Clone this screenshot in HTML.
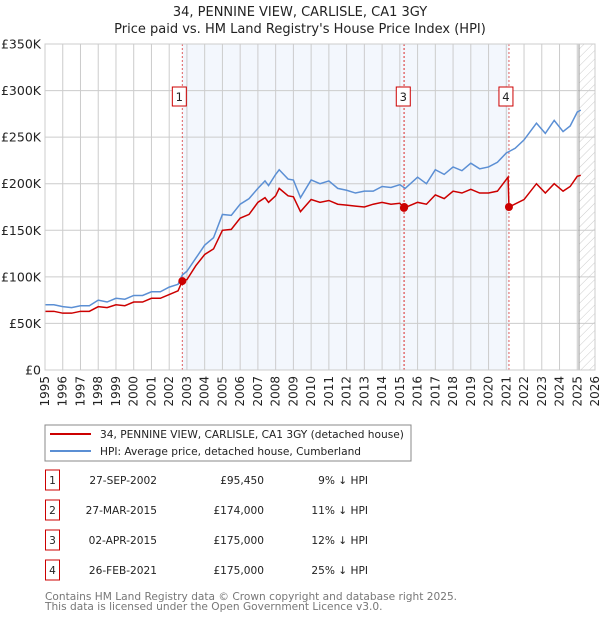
<!DOCTYPE html>
<html><head><meta charset="utf-8"><style>
body{margin:0;background:#fff;font-family:"DejaVu Sans","Liberation Sans",sans-serif;}
svg text{font-family:"DejaVu Sans","Liberation Sans",sans-serif;}
</style></head><body>
<svg id="c" width="600" height="620" xmlns="http://www.w3.org/2000/svg">
<defs><pattern id="hatch" width="6" height="6" patternUnits="userSpaceOnUse" patternTransform="rotate(45)"><line x1="0" y1="0" x2="0" y2="6" stroke="#ccc" stroke-width="1"/></pattern></defs>
<text x="300" y="16" text-anchor="middle" font-size="13" fill="#222">34, PENNINE VIEW, CARLISLE, CA1 3GY</text>
<text x="300" y="33" text-anchor="middle" font-size="13" fill="#222">Price paid vs. HM Land Registry's House Price Index (HPI)</text>
<g id="plot"></g>
<rect x="45" y="425" width="366" height="36" fill="#fff" stroke="#888"/>
<line x1="50" y1="434" x2="91" y2="434" stroke="#cc0000" stroke-width="2"/>
<text x="100" y="438" font-size="10.6" fill="#222">34, PENNINE VIEW, CARLISLE, CA1 3GY (detached house)</text>
<line x1="50" y1="451" x2="91" y2="451" stroke="#5b8fd4" stroke-width="2"/>
<text x="100" y="455" font-size="10.6" fill="#222">HPI: Average price, detached house, Cumberland</text>
<g id="tbl"></g>
<text x="45" y="600" font-size="10.6" fill="#777">Contains HM Land Registry data © Crown copyright and database right 2025.</text>
<text x="45" y="610" font-size="10.6" fill="#777">This data is licensed under the Open Government Licence v3.0.</text>
</svg>
<script>
const hpiYears=[1995,1995.5,1996,1996.5,1997,1997.5,1998,1998.5,1999,1999.5,2000,2000.5,2001,2001.5,2002,2002.5,2002.74,2003,2003.5,2004,2004.5,2005,2005.5,2006,2006.5,2007,2007.4,2007.6,2008,2008.2,2008.7,2009,2009.4,2010,2010.5,2011,2011.5,2012,2012.5,2013,2013.5,2014,2014.5,2015,2015.3,2016,2016.5,2017,2017.5,2018,2018.5,2019,2019.5,2020,2020.5,2021,2021.5,2022,2022.7,2023.2,2023.7,2024.2,2024.6,2025,2025.2];
const hpiValues=[70,70,68,67,69,69,75,73,77,76,80,80,84,84,89,92,102,106,120,134,142,167,166,178,184,195,203,198,210,215,205,204,185,204,200,203,195,193,190,192,192,197,196,199,195,207,200,215,210,218,214,222,216,218,223,233,238,247,265,254,268,256,262,277,279];
const priceYears=[1995,1995.5,1996,1996.5,1997,1997.5,1998,1998.5,1999,1999.5,2000,2000.5,2001,2001.5,2002,2002.5,2002.74,2003,2003.5,2004,2004.5,2005,2005.5,2006,2006.5,2007,2007.4,2007.6,2008,2008.2,2008.7,2009,2009.4,2010,2010.5,2011,2011.5,2012,2012.5,2013,2013.5,2014,2014.5,2015,2015.24,2016,2016.5,2017,2017.5,2018,2018.5,2019,2019.5,2020,2020.5,2021.1,2021.15,2022,2022.7,2023.2,2023.7,2024.2,2024.6,2025,2025.2];
const priceValues=[63,63,61,61,63,63,68,67,70,69,73,73,77,77,81,85,95.45,97,112,124,130,150,151,163,167,180,185,180,187,195,187,186,170,183,180,182,178,177,176,175,178,180,178,179,174,180,178,188,184,192,190,194,190,190,192,207,175,183,200,190,200,192,197,208,209];
const saleIds=["1","2","3","4"];
const saleYears=[2002.74,2015.23,2015.25,2021.15];
const salePrices=[95.45,174,175,175];
const saleDates=["27-SEP-2002","27-MAR-2015","02-APR-2015","26-FEB-2021"];
const salePriceLabels=["£95,450","£174,000","£175,000","£175,000"];
const saleHpi=["9% ↓ HPI","11% ↓ HPI","12% ↓ HPI","25% ↓ HPI"];
const yTicks=[0,50,100,150,200,250,300,350];
const yTickLabels=["£0","£50K","£100K","£150K","£200K","£250K","£300K","£350K"];
const xTicks=[1995,1996,1997,1998,1999,2000,2001,2002,2003,2004,2005,2006,2007,2008,2009,2010,2011,2012,2013,2014,2015,2016,2017,2018,2019,2020,2021,2022,2023,2024,2025,2026];
const X0=45,X1=595,Y0=370,Y1=44;
const xs=y=>X0+(y-1995)/(2026-1995)*(X1-X0);
const ys=v=>Y0-v/350*(Y0-Y1);
const NS="http://www.w3.org/2000/svg";
const g=document.getElementById('plot');
function mk(tag,attrs,parent){const e=document.createElementNS(NS,tag);for(const k in attrs)e.setAttribute(k,attrs[k]);(parent||g).appendChild(e);return e;}
let e;
e=mk('rect',{x:X0,y:Y1,width:X1-X0,height:Y0-Y1,fill:'#fff'});


e=mk('rect',{x:xs(saleYears[0]),y:Y1,width:xs(saleYears[3])-xs(saleYears[0]),height:Y0-Y1,fill:'#eef3fc',opacity:0.7});


e=mk('rect',{x:xs(2025.1),y:Y1,width:X1-xs(2025.1),height:Y0-Y1,fill:'url(#hatch)'});


xTicks.forEach(t=>{
 e=mk('line',{x1:xs(t),x2:xs(t),y1:Y1,y2:Y0,stroke:'#ccc','stroke-width':1});
 
 
 e=mk('text',{x:0,y:0,'font-size':12,fill:'#222','text-anchor':'end',transform:`translate(${xs(t)+4},${Y0+6}) rotate(-90)`});
 e.textContent=t;
 
 
});
yTicks.forEach((t,i)=>{
 e=mk('line',{x1:X0,x2:X1,y1:ys(t),y2:ys(t),stroke:'#ccc','stroke-width':1});
 
 
 e=mk('text',{x:X0-4,y:ys(t)+4.5,'font-size':12.5,fill:'#222','text-anchor':'end'});
 e.textContent=yTickLabels[i];
 
 
});
e=mk('line',{x1:xs(2025.1),x2:xs(2025.1),y1:Y1,y2:Y0,stroke:'#999','stroke-width':1});


saleYears.forEach((s,i)=>{
 e=mk('line',{x1:xs(s),x2:xs(s),y1:Y1,y2:Y0,stroke:'#e06060','stroke-width':1,'stroke-dasharray':'2,2'});
 
 
});
e=mk('polyline',{points:hpiYears.map((y,i)=>xs(y)+','+ys(hpiValues[i])).join(' '),fill:'none',stroke:'#5b8fd4','stroke-width':1.5});


e=mk('polyline',{points:priceYears.map((y,i)=>xs(y)+','+ys(priceValues[i])).join(' '),fill:'none',stroke:'#cc0000','stroke-width':1.5});


saleYears.forEach((s,i)=>{
 e=mk('circle',{cx:xs(s),cy:ys(salePrices[i]),r:4,fill:'#cc0000'});
 
 
 if(i===1) return;
 const bx=xs(s)-(i===2?-2:0)-10;
 e=mk('rect',{x:bx,y:87,width:14,height:19,fill:'#fff',stroke:'#cc0000','stroke-width':1});
 
 
 e=mk('text',{x:bx+7,y:101,'font-size':11.5,fill:'#222','text-anchor':'middle'});
 e.textContent=saleIds[i];
 
 
});
mk('rect',{x:X0,y:Y1,width:X1-X0,height:Y0-Y1,fill:'none',stroke:'#ccc'});
const t=document.getElementById('tbl');
saleIds.forEach((id,i)=>{
 const y=483+i*30;
 e=mk('rect',{x:45.5,y:y-13,width:14,height:20,fill:'#fff',stroke:'#cc0000'},t);
 
 
 e=mk('text',{x:52.5,y:y+1,'font-size':10.6,fill:'#222','text-anchor':'middle'},t);e.textContent=id;
 
 
 e=mk('text',{x:157,y:y+1,'font-size':10.6,fill:'#222','text-anchor':'end'},t);e.textContent=saleDates[i];
 
 
 e=mk('text',{x:264,y:y+1,'font-size':10.6,fill:'#222','text-anchor':'end'},t);e.textContent=salePriceLabels[i];
 
 
 e=mk('text',{x:368,y:y+1,'font-size':10.6,fill:'#222','text-anchor':'end'},t);e.textContent=saleHpi[i];
 
 
});
</script>
</body></html>
